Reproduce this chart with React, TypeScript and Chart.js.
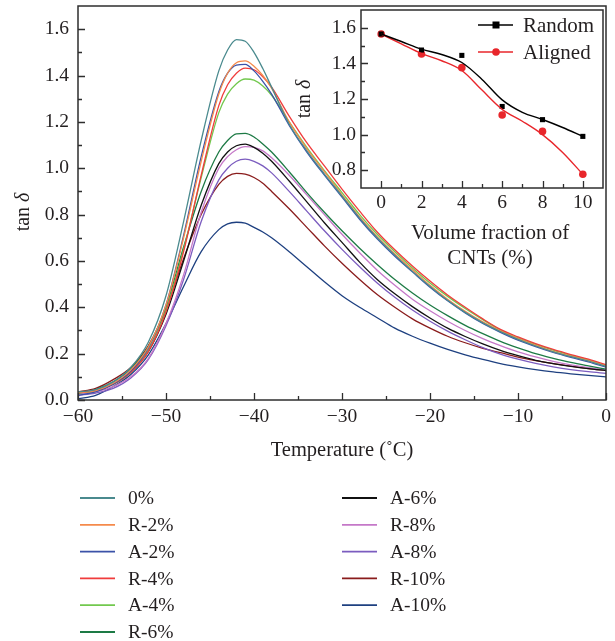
import React, { useEffect, useRef } from "react";
import { Chart, registerables } from "chart.js";

Chart.register(...registerables);

// ---------- main chart data ----------
const temperatures = [-60, -58, -56, -54, -52, -50, -48, -46, -44, -43, -42, -41, -40, -39, -38, -36, -34, -32, -30, -28, -26, -24, -22, -20, -18, -16, -14, -12, -10, -8, -6, -4, -2, 0];

const seriesLabels = ["0%", "R-2%", "A-2%", "R-4%", "A-4%", "R-6%", "A-6%", "R-8%", "A-8%", "R-10%", "A-10%"];
const seriesColors = ["#4a8a8e", "#f58a4b", "#3b52a8", "#f03c3c", "#72c84e", "#1d7a45", "#111111", "#c578c8", "#7b5cbf", "#8a1c1c", "#1e4080"];

const tan0 = [0.035, 0.045, 0.078, 0.14, 0.25, 0.45, 0.77, 1.12, 1.42, 1.51, 1.555, 1.548, 1.5, 1.43, 1.35, 1.19, 1.075, 0.975, 0.88, 0.785, 0.7, 0.625, 0.555, 0.49, 0.43, 0.378, 0.333, 0.295, 0.262, 0.233, 0.208, 0.187, 0.168, 0.145];
const tanR2 = [0.03, 0.04, 0.072, 0.13, 0.23, 0.41, 0.7, 1.03, 1.32, 1.41, 1.455, 1.463, 1.44, 1.4, 1.345, 1.2, 1.085, 0.985, 0.885, 0.79, 0.705, 0.63, 0.562, 0.495, 0.435, 0.383, 0.337, 0.298, 0.265, 0.236, 0.21, 0.189, 0.17, 0.147];
const tanA2 = [0.02, 0.035, 0.068, 0.125, 0.225, 0.41, 0.71, 1.05, 1.33, 1.41, 1.445, 1.448, 1.42, 1.375, 1.32, 1.185, 1.07, 0.97, 0.875, 0.78, 0.695, 0.62, 0.553, 0.487, 0.428, 0.376, 0.33, 0.292, 0.258, 0.23, 0.205, 0.184, 0.165, 0.142];
const tanR4 = [0.035, 0.04, 0.068, 0.12, 0.21, 0.38, 0.64, 0.97, 1.27, 1.36, 1.41, 1.432, 1.425, 1.395, 1.35, 1.225, 1.11, 1.01, 0.91, 0.815, 0.725, 0.648, 0.578, 0.513, 0.453, 0.4, 0.35, 0.305, 0.272, 0.243, 0.218, 0.196, 0.176, 0.152];
const tanA4 = [0.03, 0.04, 0.068, 0.12, 0.215, 0.39, 0.65, 0.96, 1.24, 1.32, 1.365, 1.385, 1.38, 1.355, 1.315, 1.2, 1.09, 0.99, 0.895, 0.8, 0.715, 0.64, 0.57, 0.505, 0.447, 0.395, 0.347, 0.302, 0.268, 0.24, 0.215, 0.193, 0.173, 0.149];
const tanR6 = [0.03, 0.045, 0.078, 0.135, 0.23, 0.4, 0.66, 0.9, 1.07, 1.12, 1.148, 1.15, 1.135, 1.105, 1.07, 0.985, 0.895, 0.81, 0.73, 0.655, 0.585, 0.52, 0.462, 0.41, 0.364, 0.322, 0.286, 0.253, 0.225, 0.2, 0.18, 0.162, 0.147, 0.133];
const tanA6 = [0.03, 0.04, 0.068, 0.12, 0.21, 0.37, 0.6, 0.84, 1.02, 1.07, 1.097, 1.104, 1.09, 1.065, 1.03, 0.945, 0.855, 0.765, 0.68, 0.595, 0.52, 0.458, 0.403, 0.354, 0.31, 0.274, 0.242, 0.214, 0.191, 0.171, 0.157, 0.145, 0.135, 0.127];
const tanR8 = [0.025, 0.035, 0.058, 0.1, 0.18, 0.33, 0.54, 0.81, 1.0, 1.05, 1.08, 1.093, 1.09, 1.075, 1.045, 0.97, 0.885, 0.8, 0.715, 0.635, 0.56, 0.495, 0.435, 0.385, 0.34, 0.3, 0.265, 0.235, 0.208, 0.186, 0.167, 0.152, 0.14, 0.13];
const tanA8 = [0.02, 0.03, 0.05, 0.095, 0.175, 0.32, 0.52, 0.77, 0.95, 1.0, 1.03, 1.039, 1.03, 1.01, 0.98, 0.9, 0.815, 0.73, 0.65, 0.575, 0.505, 0.443, 0.388, 0.34, 0.297, 0.26, 0.226, 0.198, 0.176, 0.158, 0.143, 0.131, 0.122, 0.115];
const tanR10 = [0.035, 0.05, 0.088, 0.14, 0.235, 0.39, 0.61, 0.8, 0.93, 0.965, 0.978, 0.975, 0.96, 0.935, 0.9, 0.825, 0.745, 0.665, 0.59, 0.52, 0.455, 0.4, 0.35, 0.31, 0.275, 0.247, 0.223, 0.204, 0.185, 0.17, 0.157, 0.146, 0.136, 0.128];
const tanA10 = [0.005, 0.02, 0.058, 0.11, 0.195, 0.33, 0.49, 0.64, 0.735, 0.76, 0.767, 0.763, 0.745, 0.725, 0.7, 0.64, 0.575, 0.51, 0.45, 0.4, 0.355, 0.31, 0.275, 0.245, 0.218, 0.195, 0.175, 0.157, 0.143, 0.131, 0.121, 0.113, 0.106, 0.1];

const seriesValues = [tan0, tanR2, tanA2, tanR4, tanA4, tanR6, tanA6, tanR8, tanA8, tanR10, tanA10];

const xMajorTicks = [-60, -50, -40, -30, -20, -10, 0];
const xMinorTicks = [-55, -45, -35, -25, -15, -5];
const yMajorTicks = [0, 0.2, 0.4, 0.6, 0.8, 1.0, 1.2, 1.4, 1.6];
const yMinorTicks = [0.1, 0.3, 0.5, 0.7, 0.9, 1.1, 1.3, 1.5];

// ---------- inset data ----------
const insetFractions = [0, 2, 4, 6, 8, 10];
const randomTanDelta = [1.565, 1.475, 1.445, 1.158, 1.084, 0.99];
const alignedTanDelta = [1.565, 1.453, 1.376, 1.11, 1.018, 0.777];
const fitFractions = [0, 1, 2, 3, 4, 5, 6, 7, 8, 9, 10];
const randomFit = [1.565, 1.523, 1.48, 1.45, 1.405, 1.31, 1.195, 1.125, 1.085, 1.04, 0.99];
const alignedFit = [1.565, 1.51, 1.455, 1.415, 1.36, 1.25, 1.142, 1.075, 1.0, 0.9, 0.777];

const insetXMajor = [0, 2, 4, 6, 8, 10];
const insetXMinor = [1, 3, 5, 7, 9];
const insetYMajor = [0.8, 1.0, 1.2, 1.4, 1.6];
const insetYMinor = [0.9, 1.1, 1.3, 1.5];

const FONT = '"Liberation Serif", "DejaVu Serif", serif';
const TEXT = "#231f20";
const AXIS = "#2e2e2e";
const RED = "#e8262b";

function fmtMinus(v: number, digits = 0) {
  const s = Math.abs(v).toFixed(digits);
  return v < 0 ? "\u2212" + s : s;
}

function drawFrameTicks(chart: any, xMaj: number[], xMin: number[], yMaj: number[], yMin: number[]) {
  const { ctx, chartArea: a, scales } = chart;
  const x = scales.x;
  const y = scales.y;
  ctx.save();
  ctx.strokeStyle = AXIS;
  ctx.lineWidth = 1.5;
  ctx.strokeRect(a.left, a.top, a.right - a.left, a.bottom - a.top);
  ctx.lineWidth = 1.3;
  ctx.beginPath();
  const addX = (vals: number[], len: number) => {
    for (const v of vals) {
      const px = Math.round(x.getPixelForValue(v)) + 0.5;
      ctx.moveTo(px, a.bottom);
      ctx.lineTo(px, a.bottom - len);
    }
  };
  const addY = (vals: number[], len: number) => {
    for (const v of vals) {
      const py = Math.round(y.getPixelForValue(v)) + 0.5;
      ctx.moveTo(a.left, py);
      ctx.lineTo(a.left + len, py);
    }
  };
  addX(xMaj, 7);
  addX(xMin, 4);
  addY(yMaj, 7);
  addY(yMin, 4);
  ctx.stroke();
  ctx.restore();
}

function drawTanDelta(ctx: CanvasRenderingContext2D, cx: number, cy: number, size: number) {
  ctx.save();
  ctx.translate(cx, cy);
  ctx.rotate(-Math.PI / 2);
  ctx.fillStyle = TEXT;
  ctx.textBaseline = "middle";
  ctx.textAlign = "left";
  ctx.font = `${size}px ${FONT}`;
  const w1 = ctx.measureText("tan ").width;
  ctx.font = `italic ${size}px ${FONT}`;
  const w2 = ctx.measureText("\u03b4").width;
  const start = -(w1 + w2) / 2;
  ctx.font = `${size}px ${FONT}`;
  ctx.fillText("tan ", start, 0);
  ctx.font = `italic ${size}px ${FONT}`;
  ctx.fillText("\u03b4", start + w1, 0);
  ctx.restore();
}

const mainDecor = {
  id: "mainDecor",
  afterDraw(chart: any) {
    drawFrameTicks(chart, xMajorTicks, xMinorTicks, yMajorTicks, yMinorTicks);
    const { ctx, chartArea: a } = chart;
    ctx.save();
    ctx.fillStyle = TEXT;
    ctx.font = `20.5px ${FONT}`;
    ctx.textAlign = "center";
    ctx.textBaseline = "middle";
    ctx.fillText("Temperature (\u02daC)", (a.left + a.right) / 2, 451);
    ctx.restore();
    drawTanDelta(ctx, 24, 212, 20);

    // legend (two columns)
    ctx.save();
    ctx.font = `19.5px ${FONT}`;
    ctx.textBaseline = "middle";
    ctx.textAlign = "left";
    chart.data.datasets.forEach((ds: any, i: number) => {
      const col = i < 6 ? 0 : 1;
      const row = i < 6 ? i : i - 6;
      const yy = 498 + row * 26.8;
      const x0 = col === 0 ? 80 : 342;
      ctx.strokeStyle = ds.borderColor;
      ctx.lineWidth = 1.8;
      ctx.beginPath();
      ctx.moveTo(x0, yy);
      ctx.lineTo(x0 + 35, yy);
      ctx.stroke();
      ctx.fillStyle = TEXT;
      ctx.fillText(ds.label, x0 + 48, yy + 1);
    });
    ctx.restore();
  },
};

const insetDecor = {
  id: "insetDecor",
  afterDraw(chart: any) {
    drawFrameTicks(chart, insetXMajor, insetXMinor, insetYMajor, insetYMinor);
    const { ctx } = chart;
    ctx.save();
    ctx.fillStyle = TEXT;
    ctx.font = `21px ${FONT}`;
    ctx.textAlign = "center";
    ctx.textBaseline = "middle";
    ctx.fillText("Volume fraction of", 210, 233);
    ctx.fillText("CNTs (%)", 210, 258);
    ctx.restore();
    drawTanDelta(ctx, 25, 99, 20);

    // inset legend
    const items = [
      { label: "Random", color: "#000000", shape: "rect", y: 25 },
      { label: "Aligned", color: RED, shape: "circle", y: 52 },
    ];
    ctx.save();
    for (const it of items) {
      ctx.strokeStyle = it.color;
      ctx.fillStyle = it.color;
      ctx.lineWidth = 1.4;
      ctx.beginPath();
      ctx.moveTo(198, it.y);
      ctx.lineTo(233, it.y);
      ctx.stroke();
      if (it.shape === "rect") {
        ctx.fillRect(216 - 3.5, it.y - 3.5, 7, 7);
      } else {
        ctx.beginPath();
        ctx.arc(216, it.y, 3.8, 0, Math.PI * 2);
        ctx.fill();
      }
      ctx.fillStyle = TEXT;
      ctx.font = `21px ${FONT}`;
      ctx.textAlign = "left";
      ctx.textBaseline = "middle";
      ctx.fillText(it.label, 243, it.y + 1);
    }
    ctx.restore();
  },
};

export default function App() {
  const mainRef = useRef<HTMLCanvasElement | null>(null);
  const insetRef = useRef<HTMLCanvasElement | null>(null);

  useEffect(() => {
    if (!mainRef.current || !insetRef.current) return;

    const tickFont = { family: FONT, size: 19.5 };

    const main = new Chart(mainRef.current, {
      type: "line",
      data: {
        datasets: seriesLabels.map((label, i) => ({
          label,
          data: temperatures.map((t, j) => ({ x: t, y: seriesValues[i][j] })),
          borderColor: seriesColors[i],
          backgroundColor: seriesColors[i],
          borderWidth: 1.3,
          pointRadius: 0,
          cubicInterpolationMode: "monotone" as const,
          fill: false,
        })),
      },
      options: {
        animation: false,
        responsive: false,
        events: [],
        layout: { padding: { left: 0, right: 9, top: 6, bottom: 0 } },
        plugins: { legend: { display: false }, tooltip: { enabled: false }, title: { display: false } },
        scales: {
          x: {
            type: "linear",
            min: -60,
            max: 0,
            afterBuildTicks: (s: any) => {
              s.ticks = xMajorTicks.map((v) => ({ value: v }));
            },
            afterFit: (s: any) => {
              s.height = 241;
              s.paddingLeft = 0;
              s.paddingRight = 0;
            },
            ticks: {
              autoSkip: false,
              maxRotation: 0,
              padding: 5,
              font: tickFont,
              color: TEXT,
              callback: (v: any) => fmtMinus(Number(v), 0),
            },
            grid: { display: false, drawTicks: false },
            border: { display: false },
          },
          y: {
            type: "linear",
            min: 0,
            max: 1.7,
            afterBuildTicks: (s: any) => {
              s.ticks = yMajorTicks.map((v) => ({ value: v }));
            },
            afterFit: (s: any) => {
              s.width = 78;
              s.paddingTop = 0;
              s.paddingBottom = 0;
            },
            ticks: {
              autoSkip: false,
              padding: 9,
              font: tickFont,
              color: TEXT,
              callback: (v: any) => Number(v).toFixed(1),
            },
            grid: { display: false, drawTicks: false },
            border: { display: false },
          },
        },
      },
      plugins: [mainDecor],
    } as any);

    const inset = new Chart(insetRef.current, {
      type: "line",
      data: {
        datasets: [
          {
            label: "Random fit",
            data: fitFractions.map((f, j) => ({ x: f, y: randomFit[j] })),
            borderColor: "#000000",
            borderWidth: 1.4,
            pointRadius: 0,
            cubicInterpolationMode: "monotone",
          },
          {
            label: "Aligned fit",
            data: fitFractions.map((f, j) => ({ x: f, y: alignedFit[j] })),
            borderColor: RED,
            borderWidth: 1.4,
            pointRadius: 0,
            cubicInterpolationMode: "monotone",
          },
          {
            label: "Random",
            data: insetFractions.map((f, j) => ({ x: f, y: randomTanDelta[j] })),
            showLine: false,
            pointStyle: "rect",
            pointRadius: 3.6,
            backgroundColor: "#000000",
            borderColor: "#000000",
            borderWidth: 0,
          },
          {
            label: "Aligned",
            data: insetFractions.map((f, j) => ({ x: f, y: alignedTanDelta[j] })),
            showLine: false,
            pointStyle: "circle",
            pointRadius: 3.8,
            backgroundColor: RED,
            borderColor: RED,
            borderWidth: 0,
          },
        ],
      },
      options: {
        animation: false,
        responsive: false,
        events: [],
        layout: { padding: { left: 0, right: 12, top: 10, bottom: 0 } },
        plugins: { legend: { display: false }, tooltip: { enabled: false } },
        scales: {
          x: {
            type: "linear",
            min: -1,
            max: 11,
            afterBuildTicks: (s: any) => {
              s.ticks = insetXMajor.map((v) => ({ value: v }));
            },
            afterFit: (s: any) => {
              s.height = 87;
              s.paddingLeft = 0;
              s.paddingRight = 0;
            },
            ticks: { autoSkip: false, maxRotation: 0, padding: 3, font: tickFont, color: TEXT, callback: (v: any) => String(v) },
            grid: { display: false, drawTicks: false },
            border: { display: false },
          },
          y: {
            type: "linear",
            min: 0.7,
            max: 1.7,
            afterBuildTicks: (s: any) => {
              s.ticks = insetYMajor.map((v) => ({ value: v }));
            },
            afterFit: (s: any) => {
              s.width = 81;
              s.paddingTop = 0;
              s.paddingBottom = 0;
            },
            ticks: { autoSkip: false, padding: 5, font: tickFont, color: TEXT, callback: (v: any) => Number(v).toFixed(1) },
            grid: { display: false, drawTicks: false },
            border: { display: false },
          },
        },
      },
      plugins: [insetDecor],
    } as any);

    return () => {
      main.destroy();
      inset.destroy();
    };
  }, []);

  return (
    <div style={{ position: "absolute", left: 0, top: 0, width: 615, height: 641, background: "#ffffff" }}>
      <canvas ref={mainRef} width={615} height={641} style={{ position: "absolute", left: 0, top: 0, width: 615, height: 641 }} />
      <canvas ref={insetRef} width={335} height={275} style={{ position: "absolute", left: 280, top: 0, width: 335, height: 275 }} />
    </div>
  );
}
